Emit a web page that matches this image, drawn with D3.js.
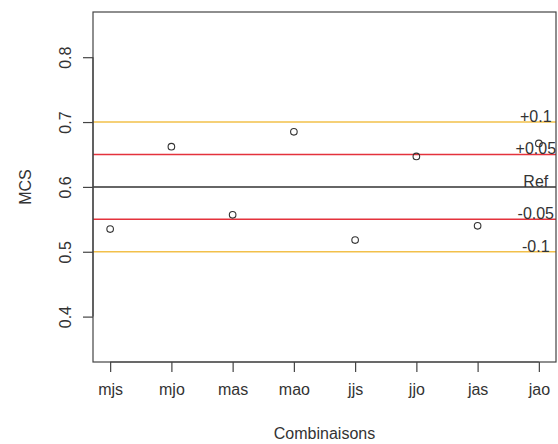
<!DOCTYPE html>
<html><head><meta charset="utf-8">
<script src="https://cdn.jsdelivr.net/npm/d3@7"></script>
<style>body{margin:0;background:#fff}svg{display:block}text{font-family:"Liberation Sans",Arial,sans-serif;fill:#333}</style>
</head><body>
<script>
const categories = ["mjs","mjo","mas","mao","jjs","jjo","jas","jao"];
const mcs = [0.535,0.662,0.557,0.685,0.518,0.647,0.540,0.667];
const refValues = [0.7,0.65,0.6,0.55,0.5];
const refLabels = ["+0.1","+0.05","Ref","-0.05","-0.1"];
const refColors = ["#f2c04a","#e4323c","#333333","#e4323c","#f2c04a"];
const yTicks = [0.4,0.5,0.6,0.7,0.8];

const W=558,H=444;
const m={l:93,t:12,r:556,b:362};
const FS=16;
const svg=d3.select("body").append("svg").attr("width",W).attr("height",H);
const x=d3.scaleLinear().domain([0.72,8.28]).range([m.l,m.r]);
const y=d3.scaleLinear().domain([0.33,0.8697]).range([m.b,m.t]);

// reference lines
svg.selectAll("line.ref").data(refValues).join("line").attr("class","ref")
 .attr("x1",m.l).attr("x2",m.r).attr("y1",d=>y(d)).attr("y2",d=>y(d))
 .attr("stroke",(d,i)=>refColors[i]).attr("stroke-width",1.5);

// points
svg.selectAll("circle").data(mcs).join("circle")
 .attr("cx",(d,i)=>x(i+1)).attr("cy",d=>y(d)).attr("r",3.3)
 .attr("fill","none").attr("stroke","#333").attr("stroke-width",1.1);

// ref labels
svg.selectAll("text.rl").data(refValues).join("text").attr("class","rl")
 .attr("x",x(7.95)).attr("y",d=>y(d)).attr("text-anchor","middle")
 .attr("font-size",FS).text((d,i)=>refLabels[i]);

// box
svg.append("rect").attr("x",m.l).attr("y",m.t).attr("width",m.r-m.l).attr("height",m.b-m.t)
 .attr("fill","none").attr("stroke","#444").attr("stroke-width",1.2);

// y axis
const ya=svg.append("g").attr("transform",`translate(${m.l},0)`)
 .call(d3.axisLeft(y).tickValues(yTicks).tickSize(10).tickFormat(d3.format(".1f")));
ya.select(".domain").attr("d",`M0,${y(0.4)}V${y(0.8)}`).attr("stroke","#444").attr("stroke-width",1.2);
ya.selectAll(".tick line").attr("stroke","#444").attr("stroke-width",1.2);
ya.selectAll(".tick text").attr("font-size",FS).attr("fill","#333")
 .attr("transform",`translate(-28,0) rotate(-90)`)
 .attr("x",0).attr("dy","0.35em").attr("text-anchor","middle");

// x axis
const xa=svg.append("g").attr("transform",`translate(0,${m.b})`)
 .call(d3.axisBottom(x).tickValues(d3.range(1,9)).tickSize(10).tickFormat(d=>categories[d-1]));
xa.select(".domain").attr("d",`M${x(1)},0H${x(8)}`).attr("stroke","#444").attr("stroke-width",1.2);
xa.selectAll(".tick line").attr("stroke","#444").attr("stroke-width",1.2);
xa.selectAll(".tick text").attr("font-size",FS).attr("fill","#333").attr("y",22);

// axis titles
svg.append("text").attr("x",(m.l+m.r)/2).attr("y",439).attr("text-anchor","middle").attr("font-size",FS).text("Combinaisons");
svg.append("text").attr("transform",`translate(31,${(m.t+m.b)/2}) rotate(-90)`).attr("text-anchor","middle").attr("font-size",FS).text("MCS");
</script>
</body></html>
